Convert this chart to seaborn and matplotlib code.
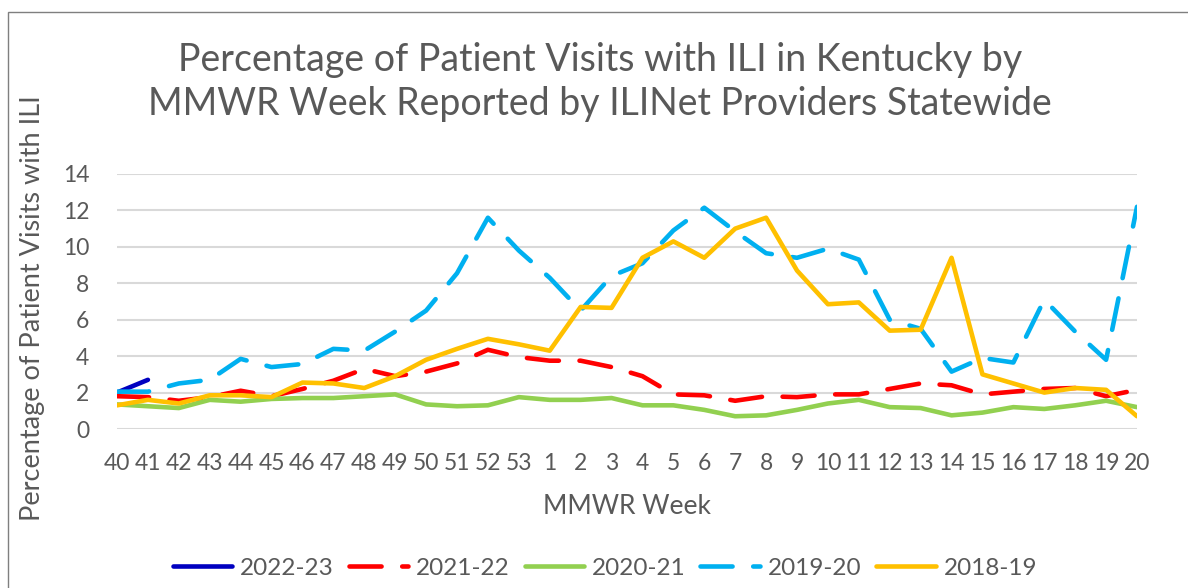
import matplotlib.pyplot as plt
import matplotlib.patches as mpatches
import numpy as np
import pandas as pd
import seaborn as sns

weeks = [str(w) for w in range(40, 54)] + [str(w) for w in range(1, 21)]
seasons = ['2022-23', '2021-22', '2020-21', '2019-20', '2018-19']

s2022 = [2.0, 2.7]
s2021 = [1.8, 1.75, 1.55, 1.75, 2.1, 1.8, 2.2, 2.65, 3.3, 2.9, 3.15, 3.6, 4.35, 3.95,
         3.75, 3.75, 3.4, 2.9, 1.9, 1.85, 1.55, 1.8, 1.75, 1.9, 1.9, 2.2, 2.5, 2.4,
         1.9, 2.05, 2.2, 2.25, 1.8, 2.15]
s2020 = [1.35, 1.25, 1.15, 1.6, 1.5, 1.65, 1.7, 1.7, 1.8, 1.9, 1.35, 1.25, 1.3, 1.75,
         1.6, 1.6, 1.7, 1.3, 1.3, 1.05, 0.7, 0.75, 1.05, 1.4, 1.6, 1.2, 1.15, 0.75,
         0.9, 1.2, 1.1, 1.3, 1.55, 1.2]
s2019 = [2.05, 2.05, 2.5, 2.7, 3.85, 3.4, 3.57, 4.4, 4.3, 5.35, 6.5, 8.55, 11.6, 9.8,
         8.3, 6.5, 8.4, 9.1, 10.9, 12.15, 10.85, 9.65, 9.4, 9.9, 9.3, 6.0, 5.5, 3.15,
         3.9, 3.65, 7.1, 5.35, 3.8, 12.2]
s2018 = [1.3, 1.6, 1.4, 1.85, 1.85, 1.75, 2.55, 2.5, 2.25, 2.9, 3.8, 4.4, 4.95, 4.65,
         4.3, 6.7, 6.65, 9.4, 10.3, 9.4, 11.0, 11.6, 8.7, 6.85, 6.95, 5.4, 5.45, 9.4,
         3.0, 2.5, 2.0, 2.25, 2.15, 0.7]

values = [s2022, s2021, s2020, s2019, s2018]
colors = ['#0000C0', '#FF0000', '#92D050', '#00B0F0', '#FFC000']

rows = []
for season, vals in zip(seasons, values):
    for i, v in enumerate(vals):
        rows.append({'pos': i, 'pct': v, 'Season': season})
df = pd.DataFrame(rows)

sns.set_style("white")
plt.rcParams['font.family'] = ['Lato', 'DejaVu Sans']
grey = '#595959'

fig = plt.figure(figsize=(11.88, 5.88), dpi=100)
ax = fig.add_axes([117 / 1188, 159 / 588, 1020 / 1188, 255 / 588])

dash_long = (7, 4.5)
sns.lineplot(data=df, x='pos', y='pct', hue='Season', style='Season',
             hue_order=seasons, style_order=seasons,
             palette=dict(zip(seasons, colors)),
             dashes={'2022-23': '', '2021-22': dash_long, '2020-21': '',
                     '2019-20': dash_long, '2018-19': ''},
             linewidth=3.3, ax=ax, legend=True)
for ln in ax.get_lines():
    ln.set_dash_capstyle('round')
    ln.set_solid_capstyle('round')

ax.set_xlim(0, len(weeks) - 1)
ax.set_ylim(0, 14)
ax.set_xticks(range(len(weeks)))
ax.set_xticklabels(weeks)
ax.set_yticks(range(0, 15, 2))
ax.tick_params(axis='both', length=0, labelsize=16.5, colors=grey)
ax.tick_params(axis='x', pad=17)
ax.tick_params(axis='y', pad=20)
ax.yaxis.grid(True, color='#D9D9D9', linewidth=1.5)
ax.set_axisbelow(True)
for sp in ax.spines.values():
    sp.set_visible(False)

ax.set_xlabel('')
ax.set_ylabel('')
fig.text(627 / 1188, 1 - 506 / 588, 'MMWR Week',
         ha='center', va='center', fontsize=19, color=grey)
fig.text(33 / 1188, 1 - 308 / 588, 'Percentage of Patient Visits with ILI',
         rotation=90, ha='center', va='center', fontsize=19.5, color=grey)

fig.text(600 / 1188, 1 - 82 / 588,
         'Percentage of Patient Visits with ILI in Kentucky by\nMMWR Week Reported by ILINet Providers Statewide',
         ha='center', va='center', fontsize=27, color=grey, linespacing=1.3)

handles, labels = ax.get_legend_handles_labels()
ax.legend(handles, labels, loc='center', bbox_to_anchor=(605 / 1188, 20 / 588),
          bbox_transform=fig.transFigure, ncol=5, frameon=False,
          fontsize=17.5, labelcolor=grey, handlelength=2.45, handletextpad=0.33,
          columnspacing=0.6)

fig.patches.append(mpatches.Rectangle((8 / 1188, -0.1), 1.2, 1.1 - 12 / 588,
                                      transform=fig.transFigure, fill=False,
                                      edgecolor='#7F7F7F', linewidth=1))

fig.savefig('out.png', dpi=100)
